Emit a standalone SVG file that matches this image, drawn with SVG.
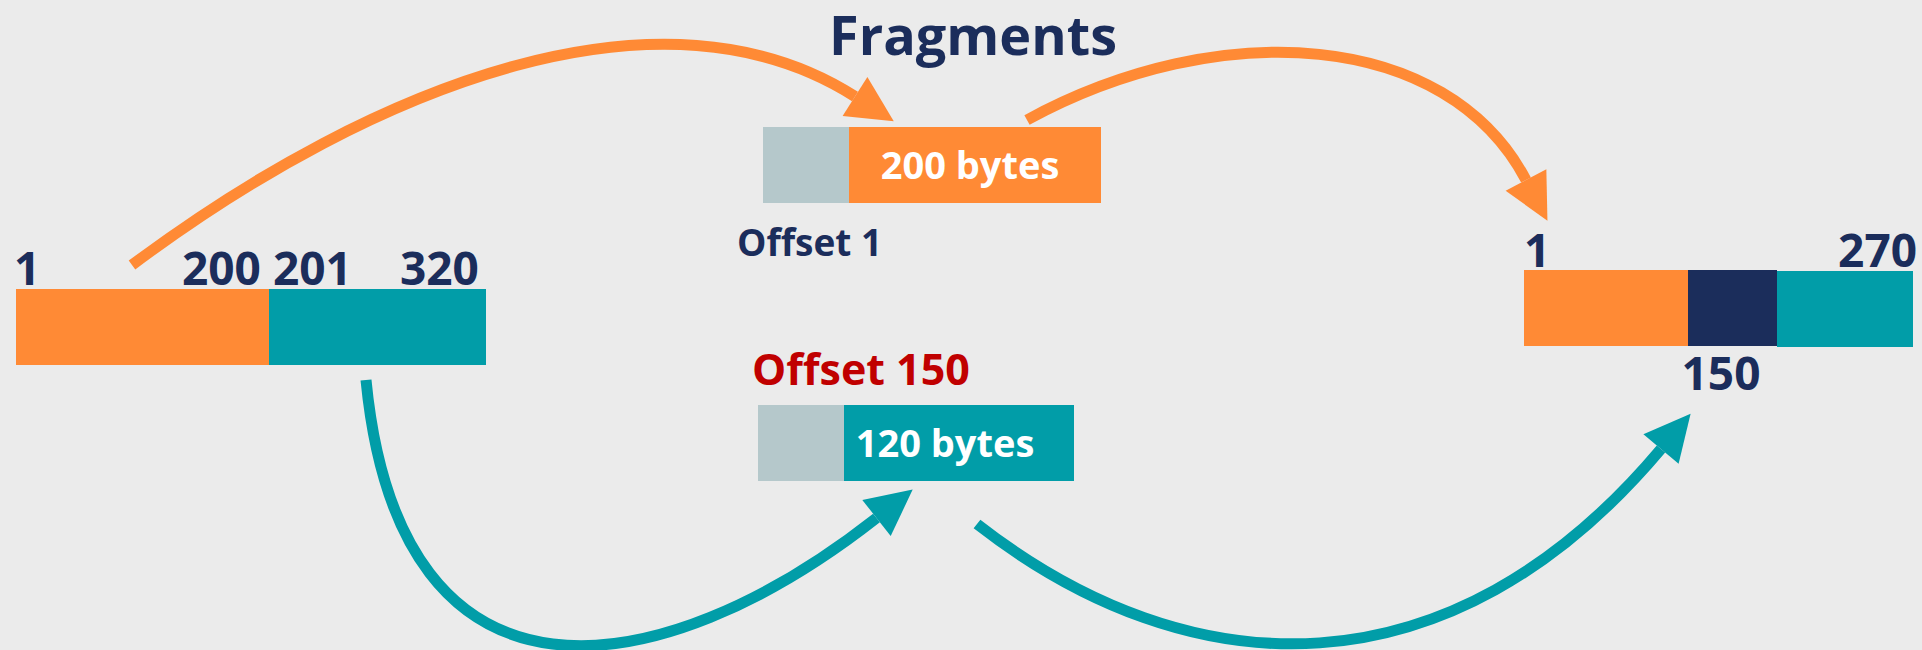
<svg xmlns="http://www.w3.org/2000/svg" width="1922" height="650" viewBox="0 0 1922 650">
  <style>
    .bg { fill: #ebebeb; }
    .orange { fill: #ff8a35; }
    .teal { fill: #019da8; }
    .navy { fill: #1b2d5b; }
    .pad { fill: #b5c8cb; }
    text { font-family: "Open Sans", "Noto Sans", "Liberation Sans", sans-serif; font-weight: 700; }
    .num { font-size: 46px; fill: #1b2d5b; }
    .bytes { font-size: 38px; fill: #ffffff; text-anchor: middle; }
    .wire { fill: none; stroke-width: 11; }
    .wire-o { stroke: #ff8a35; }
    .wire-t { stroke: #019da8; }
  </style>
  <defs>
    <marker id="head-o" markerUnits="userSpaceOnUse" markerWidth="50" markerHeight="50" viewBox="0 -25 50 50" refX="0" refY="0" orient="auto" overflow="visible">
      <path d="M0,-23 L46,0 L0,23 Z" fill="#ff8a35"/>
    </marker>
    <marker id="head-t" markerUnits="userSpaceOnUse" markerWidth="50" markerHeight="50" viewBox="0 -25 50 50" refX="0" refY="0" orient="auto" overflow="visible">
      <path d="M0,-23 L46,0 L0,23 Z" fill="#019da8"/>
    </marker>
  </defs>

  <rect class="bg" x="0" y="0" width="1922" height="650"/>

  <!-- title -->
  <text x="973" y="55" font-size="54" fill="#1b2d5b" text-anchor="middle">Fragments</text>

  <!-- original datagram -->
  <g id="datagram">
    <rect class="orange" x="16" y="289" width="253" height="76"/>
    <rect class="teal" x="269" y="289" width="217" height="76"/>
    <text class="num" x="14" y="285">1</text>
    <text class="num" x="182" y="285">200</text>
    <text class="num" x="273" y="285">201</text>
    <text class="num" x="400" y="285">320</text>
  </g>

  <!-- first fragment -->
  <g id="fragment1">
    <rect class="pad" x="763" y="127" width="86" height="76"/>
    <rect class="orange" x="849" y="127" width="252" height="76"/>
    <text class="bytes" x="970" y="179">200 bytes</text>
    <text x="737" y="256" font-size="37" fill="#1b2d5b">Offset 1</text>
  </g>

  <!-- second fragment -->
  <g id="fragment2">
    <text x="752" y="385" font-size="43" fill="#c00000">Offset 150</text>
    <rect class="pad" x="758" y="405" width="86" height="76"/>
    <rect class="teal" x="844" y="405" width="230" height="76"/>
    <text class="bytes" x="945" y="457">120 bytes</text>
  </g>

  <!-- reassembled datagram -->
  <g id="reassembled">
    <rect class="orange" x="1524" y="270" width="164" height="76"/>
    <rect class="navy" x="1688" y="270" width="89" height="76"/>
    <rect class="teal" x="1777" y="271" width="136" height="76"/>
    <text class="num" x="1524" y="267">1</text>
    <text class="num" x="1917" y="267" text-anchor="end">270</text>
    <text class="num" x="1721" y="390" text-anchor="middle">150</text>
  </g>

  <!-- connectors -->
  <g id="connectors">
    <path class="wire wire-o" d="M132,265 C380,80 665,-25 855,96.5" marker-end="url(#head-o)"/>
    <path class="wire wire-o" d="M1027,120 C1220,15 1447,30 1526,180" marker-end="url(#head-o)"/>
    <path class="wire wire-t" d="M366,380 C400,730 660,688 876.5,518" marker-end="url(#head-t)"/>
    <path class="wire wire-t" d="M977,524 C1190,690 1450,700 1661,449" marker-end="url(#head-t)"/>
  </g>
</svg>
